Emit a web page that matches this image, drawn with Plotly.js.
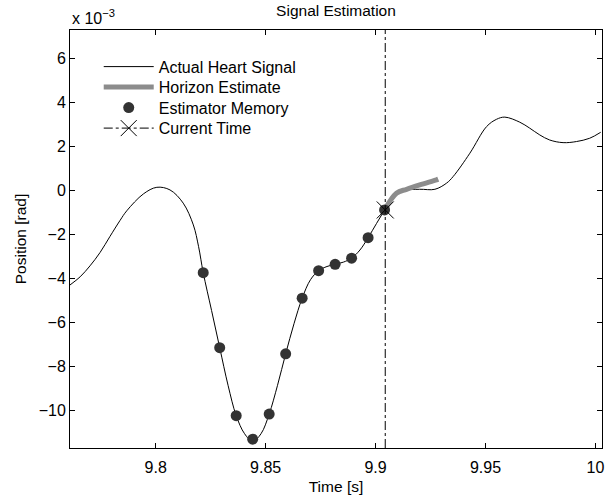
<!DOCTYPE html>
<html>
<head>
<meta charset="utf-8">
<script src="https://cdn.plot.ly/plotly-3.0.1.min.js"></script>
<style>
  html, body { margin: 0; padding: 0; background: #fff; }
  #chart { width: 615px; height: 497px; }
</style>
</head>
<body>
<div id="chart"></div>
<script>
// Actual heart signal (time in s, position in units of 1e-3 rad)
const signalTime = [9.761, 9.7656, 9.7701, 9.7747, 9.7792, 9.7838, 9.7868, 9.7944, 9.8005, 9.8065,
  9.8125, 9.8171, 9.8195, 9.8216, 9.8254, 9.8291, 9.8329, 9.8366, 9.8404, 9.8441, 9.8479,
  9.8516, 9.8554, 9.8591, 9.8629, 9.8666, 9.8704, 9.8741, 9.8779, 9.8816, 9.8854, 9.8891,
  9.8929, 9.8966, 9.9004, 9.9041, 9.908, 9.9125, 9.920, 9.9270, 9.9323, 9.9353, 9.9429,
  9.9505, 9.9550, 9.9588, 9.9656, 9.9701, 9.9747, 9.9792, 9.9853, 9.9914, 9.9974, 10.0024];
const signalPos = [-4.29, -3.92, -3.42, -2.81, -2.08, -1.35, -0.92, -0.15, 0.15, 0.03,
  -0.57, -1.56, -2.55, -3.73, -5.45, -7.14, -8.85, -10.23, -11.05, -11.40, -11.05,
  -10.16, -8.85, -7.42, -6.05, -4.89, -4.05, -3.64, -3.45, -3.35, -3.25, -3.07,
  -2.70, -2.14, -1.50, -0.88, -0.27, 0.00, 0.06, 0.06, 0.34, 0.64, 1.70,
  2.91, 3.24, 3.34, 3.11, 2.84, 2.53, 2.30, 2.18, 2.23, 2.38, 2.65];

// Horizon estimate
const horizonTime = [9.9041, 9.9095, 9.9141, 9.9201, 9.9277, 9.9285];
const horizonPos = [-0.88, -0.12, 0.06, 0.26, 0.49, 0.52];

// Estimator memory samples
const memoryTime = [9.8216, 9.8291, 9.8366, 9.8441, 9.8516, 9.8591, 9.8666, 9.8741,
  9.8816, 9.8891, 9.8966, 9.9041];
const memoryPos = [-3.73, -7.14, -10.23, -11.30, -10.16, -7.42, -4.89, -3.64,
  -3.35, -3.07, -2.14, -0.88];

// Current time
const currentTime = [9.9044];
const currentPos = [-0.88];

// Axis ticks
const xTickVals = [9.8, 9.85, 9.9, 9.95, 10];
const xTickText = ['9.8', '9.85', '9.9', '9.95', '10'];
const yTickVals = [-10, -8, -6, -4, -2, 0, 2, 4, 6];
const yTickText = ['\u221210', '\u22128', '\u22126', '\u22124', '\u22122', '0', '2', '4', '6'];

const FONT = 'Liberation Sans, Arial, Helvetica, sans-serif';
const TICK_SIZE = 16, LEG_SIZE = 16, TITLE_SIZE = 15.5;

// legend rows (pixel centres) -> paper y
const plotTop = 30, plotBottom = 448;
const rowPx = [66.7, 87.2, 107.7, 128.2];
const rowY = rowPx.map(p => (plotBottom - p) / (plotBottom - plotTop));

function legendBox(i) {
  return {
    x: 0.054, y: rowY[i], xanchor: 'left', yanchor: 'middle',
    bgcolor: 'rgba(0,0,0,0)', borderwidth: 0,
    font: {family: FONT, size: LEG_SIZE, color: '#000'},
    itemwidth: 50
  };
}

const traces = [
  {
    x: signalTime, y: signalPos, name: 'Actual Heart Signal', legend: 'legend',
    mode: 'lines', line: {color: '#000', width: 1, shape: 'spline', smoothing: 1}
  },
  {
    x: horizonTime, y: horizonPos, name: 'Horizon Estimate', legend: 'legend2',
    mode: 'lines', line: {color: '#8c8c8c', width: 5, shape: 'spline'}
  },
  {
    x: memoryTime, y: memoryPos, name: 'Estimator Memory', legend: 'legend3',
    mode: 'markers', marker: {symbol: 'circle', size: 11, color: '#333333'}
  },
  {
    x: currentTime, y: currentPos, name: 'Current Time', legend: 'legend4',
    mode: 'lines+markers',
    line: {color: '#000', width: 1, dash: 'dashdot'},
    marker: {symbol: 'x-thin-open', size: 17, color: '#000', line: {color: '#000', width: 1}}
  }
];

const layout = {
  width: 615, height: 497,
  margin: {l: 70, r: 13, t: 30, b: 49},
  paper_bgcolor: '#fff', plot_bgcolor: '#fff',
  font: {family: FONT, size: 15, color: '#000'},
  showlegend: true,
  title: {
    text: 'Signal Estimation', font: {family: FONT, size: TITLE_SIZE, color: '#000'},
    x: 0.5, xref: 'paper', xanchor: 'center',
    y: 1 - 11 / 497, yref: 'container', yanchor: 'middle'
  },
  xaxis: {
    range: [9.761, 10.003],
    tickvals: xTickVals, ticktext: xTickText,
    ticks: 'inside', ticklen: 5, tickcolor: '#000', tickwidth: 1,
    showline: true, linecolor: '#000', linewidth: 1, mirror: 'ticks',
    showgrid: false, zeroline: false, ticklabelstandoff: 5,
    tickfont: {family: FONT, size: TICK_SIZE, color: '#000'},
    title: {text: 'Time [s]', font: {family: FONT, size: TITLE_SIZE, color: '#000'}, standoff: 5}
  },
  yaxis: {
    range: [-11.7, 7.3],
    tickvals: yTickVals, ticktext: yTickText,
    ticks: 'inside', ticklen: 5, tickcolor: '#000', tickwidth: 1,
    showline: true, linecolor: '#000', linewidth: 1, mirror: 'ticks',
    showgrid: false, zeroline: false,
    tickfont: {family: FONT, size: TICK_SIZE, color: '#000'},
    title: {text: 'Position [rad]', font: {family: FONT, size: TITLE_SIZE, color: '#000'}, standoff: 8}
  },
  legend: legendBox(0),
  legend2: legendBox(1),
  legend3: legendBox(2),
  legend4: legendBox(3),
  shapes: [{
    type: 'line', xref: 'x', yref: 'paper',
    x0: currentTime[0], x1: currentTime[0], y0: 0, y1: 1,
    line: {color: '#000', width: 1, dash: 'dashdot'}
  }],
  annotations: [{
    xref: 'paper', yref: 'paper', x: 0, y: 1, xanchor: 'left', yanchor: 'bottom',
    yshift: 1, showarrow: false,
    text: 'x 10<sup>\u22123</sup>', font: {family: FONT, size: 16, color: '#000'}
  }]
};

Plotly.newPlot('chart', traces, layout, {staticPlot: true, displayModeBar: false});
</script>
</body>
</html>
